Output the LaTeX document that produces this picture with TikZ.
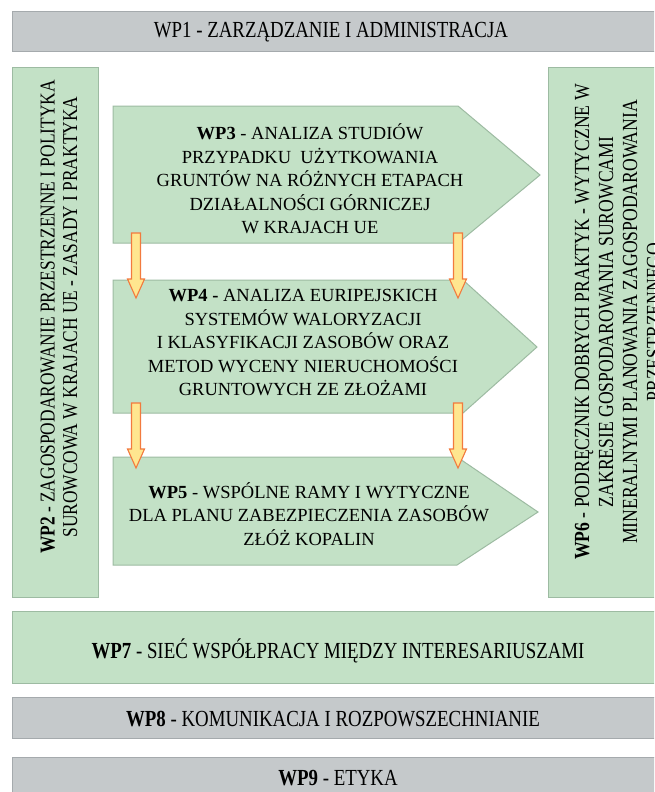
\documentclass[tikz,border=0pt]{standalone}
\usepackage{fontspec}
\setmainfont{Liberation Serif}
\newfontfamily\condfont[FakeStretch=0.82]{Liberation Serif}
\definecolor{grayfill}{HTML}{C5C9CB}
\definecolor{grayline}{HTML}{A5AAAD}
\definecolor{greenfill}{HTML}{C3E1C6}
\definecolor{greenline}{HTML}{9DBBA2}
\definecolor{arrowfill}{HTML}{FFE68F}
\definecolor{arrowline}{HTML}{F27A3E}
\tikzset{
  graybox/.style={draw=grayline, fill=grayfill, line width=1pt},
  greenbox/.style={draw=greenline, fill=greenfill, line width=1pt},
  widelabel/.style={font=\condfont\fontsize{23}{24}\selectfont, align=center, inner sep=0pt, text=black},
  sidelabel/.style={font=\condfont\fontsize{21.2}{22.5}\selectfont, align=center, inner sep=0pt, rotate=90, text=black},
  midlabel/.style={font=\fontsize{18.5}{23.5}\selectfont, align=center, inner sep=0pt, text=black},
  arrowstyle/.style={draw=arrowline, fill=arrowfill, line width=1.1pt, line join=miter},
  pics/blockdown/.style={code={
    \path[arrowstyle] (-4.5,0) -- (4.5,0) -- (4.5,46) -- (8.5,46) -- (0,65)
      -- (-8.5,46) -- (-4.5,46) -- cycle;}}
}
\begin{document}
\begin{tikzpicture}[x=1pt,y=-1pt]
\useasboundingbox (0,0) rectangle (654,792);
\clip (0,0) rectangle (654,792);
\fill[white] (0,0) rectangle (654,792);

% top bar
\path[graybox] (12,12) rectangle (670,52);
\node[widelabel] (wp1) at (331,32) {WP1 - ZARZĄDZANIE I ADMINISTRACJA};

% side columns
\path[greenbox] (12,68) rectangle (98,597);
\node[sidelabel] (wp2) at (59,317) {\textbf{WP2} - ZAGOSPODAROWANIE PRZESTRZENNE I POLITYKA\\SUROWCOWA W KRAJACH UE - ZASADY I PRAKTYKA};

\path[greenbox] (548,68) rectangle (670,597);
\node[sidelabel, font=\condfont\fontsize{21.5}{24}\selectfont] (wp6) at (618,322) {\textbf{WP6} - PODRĘCZNIK DOBRYCH PRAKTYK - WYTYCZNE W\\ZAKRESIE GOSPODAROWANIA SUROWCAMI\\MINERALNYMI PLANOWANIA ZAGOSPODAROWANIA\\PRZESTRZENNEGO};

% pentagon blocks
\path[greenbox] (113,106) -- (458,106) -- (540,175) -- (458,243) -- (113,243) -- cycle;
\node[midlabel] (wp3) at (310,179) {\textbf{WP3} - ANALIZA STUDIÓW\\PRZYPADKU\ \ UŻYTKOWANIA\\GRUNTÓW NA RÓŻNYCH ETAPACH\\DZIAŁALNOŚCI GÓRNICZEJ\\W KRAJACH UE};

\path[greenbox] (113,280) -- (463,280) -- (537,347) -- (463,413) -- (113,413) -- cycle;
\node[midlabel] (wp4) at (303,343) {\textbf{WP4 -} ANALIZA EURIPEJSKICH\\SYSTEMÓW WALORYZACJI\\I KLASYFIKACJI ZASOBÓW ORAZ\\METOD WYCENY NIERUCHOMOŚCI\\GRUNTOWYCH ZE ZŁOŻAMI};

\path[greenbox] (113,457) -- (457,457) -- (538,512) -- (457,565) -- (113,565) -- cycle;
\node[midlabel] (wp5) at (309,514) {\textbf{WP5} - WSPÓLNE RAMY I WYTYCZNE\\DLA PLANU ZABEZPIECZENIA ZASOBÓW\\ZŁÓŻ KOPALIN};

% bottom bars
\path[greenbox] (12,611) rectangle (670,683);
\node[widelabel] (wp7) at (338,651) {\textbf{WP7} - SIEĆ WSPÓŁPRACY MIĘDZY INTERESARIUSZAMI};

\path[graybox] (12,697) rectangle (670,738);
\node[widelabel] (wp8) at (333,719) {\textbf{WP8} - KOMUNIKACJA I ROZPOWSZECHNIANIE};

\path[graybox] (12,757) rectangle (670,800);
\node[widelabel] (wp9) at (338,778) {\textbf{WP9} - ETYKA};

% block arrows
\coordinate (a34l) at (136,233);
\coordinate (a34r) at (458,233);
\coordinate (a45l) at (136,403);
\coordinate (a45r) at (458,403);
\pic at (a34l) {blockdown};
\pic at (a34r) {blockdown};
\pic at (a45l) {blockdown};
\pic at (a45r) {blockdown};
\end{tikzpicture}
\end{document}
